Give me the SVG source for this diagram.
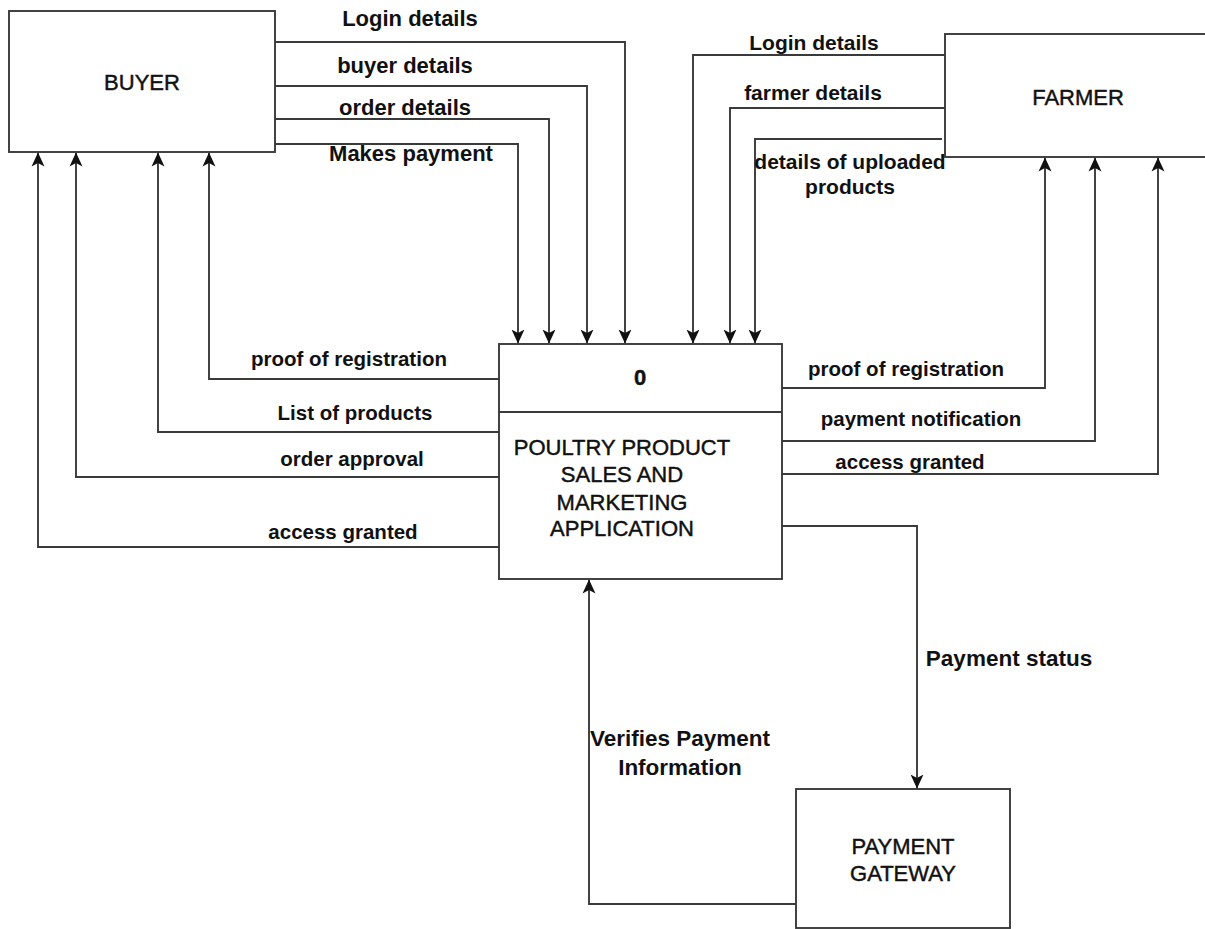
<svg xmlns="http://www.w3.org/2000/svg" width="1205" height="929" viewBox="0 0 1205 929">
<style>
.box{fill:#fff;stroke:#3a3a3a;stroke-width:1.9}
.ln{fill:none;stroke:#3a3a3a;stroke-width:1.9}
.node{font-family:"Liberation Sans",Arial,sans-serif;font-size:22px;fill:#111;stroke:#111;stroke-width:0.45;text-anchor:middle}
.lbl{font-family:"Liberation Sans",Arial,sans-serif;font-weight:bold;fill:#111;text-anchor:middle}
.tl{font-size:22px}
.tr{font-size:21px}
.bt{font-size:20.5px}
.pm{font-size:22.5px}
</style>
<defs>
<marker id="arr" markerUnits="userSpaceOnUse" markerWidth="14" markerHeight="14" viewBox="0 0 14 14" refX="13.5" refY="7" orient="auto">
<path d="M0,0.5 L14,7 L0,13.5 L3.5,7 z" fill="#111"/>
</marker>
</defs>
<rect width="1205" height="929" fill="#fff"/>
<g id="connectors">
<path class="ln" d="M275,42 H625 V343" marker-end="url(#arr)"/>
<path class="ln" d="M275,86 H587 V343" marker-end="url(#arr)"/>
<path class="ln" d="M275,119 H549 V343" marker-end="url(#arr)"/>
<path class="ln" d="M275,144 H518 V343" marker-end="url(#arr)"/>
<path class="ln" d="M499,379 H209 V153" marker-end="url(#arr)"/>
<path class="ln" d="M499,432 H158 V153" marker-end="url(#arr)"/>
<path class="ln" d="M499,477 H76 V153" marker-end="url(#arr)"/>
<path class="ln" d="M499,547 H38 V153" marker-end="url(#arr)"/>
<path class="ln" d="M945,55 H693 V343" marker-end="url(#arr)"/>
<path class="ln" d="M945,108 H730 V343" marker-end="url(#arr)"/>
<path class="ln" d="M942,139 H755 V343" marker-end="url(#arr)"/>
<path class="ln" d="M782,388 H1045 V158" marker-end="url(#arr)"/>
<path class="ln" d="M782,441 H1095 V158" marker-end="url(#arr)"/>
<path class="ln" d="M782,474 H1158 V158" marker-end="url(#arr)"/>
<path class="ln" d="M782,526 H917 V788" marker-end="url(#arr)"/>
<path class="ln" d="M796,904 H589 V580" marker-end="url(#arr)"/>
<text class="lbl tl" x="410" y="26">Login details</text>
<text class="lbl tl" x="405" y="73">buyer details</text>
<text class="lbl tl" x="405" y="115">order details</text>
<text class="lbl tl" x="411" y="161">Makes payment</text>
<text class="lbl bt" x="349" y="366">proof of registration</text>
<text class="lbl bt" x="355" y="420">List of products</text>
<text class="lbl bt" x="352" y="466">order approval</text>
<text class="lbl bt" x="343" y="539">access granted</text>
<text class="lbl tr" x="814" y="50">Login details</text>
<text class="lbl tr" x="813" y="100">farmer details</text>
<text class="lbl tr" x="850" y="169">details of uploaded</text>
<text class="lbl tr" x="850" y="194">products</text>
<text class="lbl bt" x="906" y="376">proof of registration</text>
<text class="lbl bt" x="921" y="426">payment notification</text>
<text class="lbl bt" x="910" y="469">access granted</text>
<text class="lbl pm" x="1009" y="666">Payment status</text>
<text class="lbl pm" x="680" y="746">Verifies Payment</text>
<text class="lbl pm" x="680" y="775">Information</text>
</g>
<g id="buyer">
<rect class="box" x="9" y="11" width="266" height="141"/>
<text class="node" x="142" y="90">BUYER</text>
</g>
<g id="farmer">
<rect class="box" x="945" y="34" width="270" height="123"/>
<text class="node" x="1078" y="105">FARMER</text>
</g>
<g id="process">
<rect class="box" x="499" y="344" width="283" height="235"/>
<line class="ln" x1="499" y1="412" x2="782" y2="412"/>
<text class="node" x="640" y="385" font-weight="bold">0</text>
<text class="node" x="622" y="455">POULTRY PRODUCT</text>
<text class="node" x="622" y="482">SALES AND</text>
<text class="node" x="622" y="510">MARKETING</text>
<text class="node" x="622" y="536">APPLICATION</text>
</g>
<g id="payment-gateway">
<rect class="box" x="796" y="789" width="214" height="139"/>
<text class="node" x="903" y="854">PAYMENT</text>
<text class="node" x="903" y="881">GATEWAY</text>
</g>
</svg>
